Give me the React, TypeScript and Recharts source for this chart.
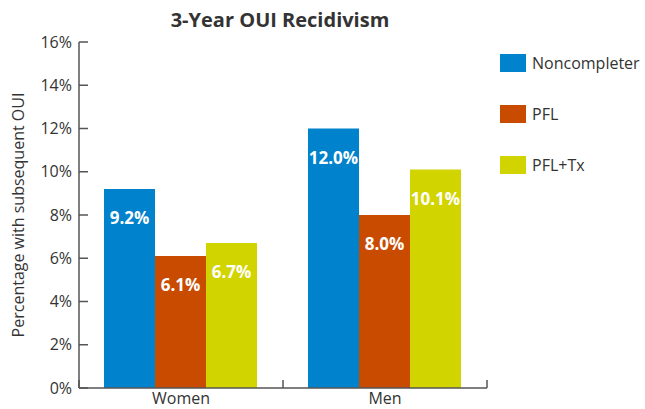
import React from "react";
import { BarChart, Bar, XAxis, YAxis, Legend, LabelList } from "recharts";

const groups = ["Women", "Men"];
const noncompleter = [9.2, 12.0];
const pfl = [6.1, 8.0];
const pflTx = [6.7, 10.1];
const yTicks = [0, 2, 4, 6, 8, 10, 12, 14, 16];

const seriesInfo = [
  { key: "noncompleter", name: "Noncompleter", color: "#0082CC" },
  { key: "pfl", name: "PFL", color: "#C84B00" },
  { key: "pflTx", name: "PFL+Tx", color: "#D2D400" },
];

const data = groups.map((g, i) => ({
  name: g,
  noncompleter: noncompleter[i],
  pfl: pfl[i],
  pflTx: pflTx[i],
}));

const FONT = "'Open Sans', sans-serif";
const AXIS = "#555555";
const TEXT = "#333333";

function CategoryTick(props: any) {
  const { x, y, payload, index, width, visibleTicksCount } = props;
  const count = visibleTicksCount || groups.length;
  const half = (width || 408) / count / 2;
  return (
    <g>
      <line x1={x - half} x2={x - half} y1={y - 8} y2={y} stroke={AXIS} strokeWidth={1.5} />
      {index === count - 1 && (
        <line x1={x + half} x2={x + half} y1={y - 8} y2={y} stroke={AXIS} strokeWidth={1.5} />
      )}
      <text x={x} y={y + 16} textAnchor="middle" fill={TEXT} fontSize={16} fontFamily={FONT}>
        {payload.value}
      </text>
    </g>
  );
}

function YTitle(props: any) {
  const { viewBox } = props;
  const cx = viewBox.x + 18;
  const cy = viewBox.y + viewBox.height / 2;
  return (
    <text
      x={cx}
      y={cy}
      transform={`rotate(-90 ${cx} ${cy})`}
      textAnchor="middle"
      dominantBaseline="central"
      fill={TEXT}
      fontSize={16}
      fontFamily={FONT}
    >
      Percentage with subsequent OUI
    </text>
  );
}

function LegendBox() {
  return (
    <div style={{ paddingLeft: 13, fontFamily: FONT, fontSize: 16, color: TEXT }}>
      {seriesInfo.map((s) => (
        <div key={s.key} style={{ display: "flex", alignItems: "center", height: 18, marginBottom: 33 }}>
          <div style={{ width: 26, height: 18, background: s.color, marginRight: 6 }} />
          <span>{s.name}</span>
        </div>
      ))}
    </div>
  );
}

export default function App() {
  return (
    <div style={{ position: "absolute", left: 0, top: 0, width: 645, height: 409, background: "#fff" }}>
      <div
        style={{
          position: "absolute",
          left: 0,
          width: 560,
          top: 6,
          textAlign: "center",
          fontFamily: FONT,
          fontWeight: 700,
          fontSize: 20,
          color: TEXT,
          zIndex: 2,
        }}
      >
        3-Year OUI Recidivism
      </div>
      <BarChart
        width={645}
        height={409}
        data={data}
        margin={{ top: 42, right: 0, bottom: 0, left: 0 }}
        barCategoryGap={25}
        barGap={0}
      >
        <XAxis
          dataKey="name"
          height={21}
          tickSize={0}
          tickMargin={0}
          tickLine={false}
          axisLine={{ stroke: AXIS, strokeWidth: 1.5 }}
          tick={<CategoryTick />}
          interval={0}
        />
        <YAxis
          width={79}
          domain={[0, 16]}
          ticks={yTicks}
          interval={0}
          tickFormatter={(v) => `${v}%`}
          tickSize={-9}
          tickMargin={16}
          axisLine={{ stroke: AXIS, strokeWidth: 1.5 }}
          tickLine={{ stroke: AXIS, strokeWidth: 1.5 }}
          tick={{ fill: TEXT, fontSize: 16, fontFamily: FONT }}
          label={<YTitle />}
        />
        <Legend
          layout="vertical"
          align="right"
          verticalAlign="top"
          content={<LegendBox />}
          wrapperStyle={{ width: 158, top: 54, right: 0 }}
        />
        {seriesInfo.map((s) => (
          <Bar key={s.key} dataKey={s.key} name={s.name} fill={s.color} isAnimationActive={false}>
            <LabelList
              dataKey={s.key}
              position="insideTop"
              offset={23}
              formatter={(v: any) => `${Number(v).toFixed(1)}%`}
              fill="#ffffff"
              fontSize={17}
              fontWeight={700}
              fontFamily={FONT}
            />
          </Bar>
        ))}
      </BarChart>
    </div>
  );
}
